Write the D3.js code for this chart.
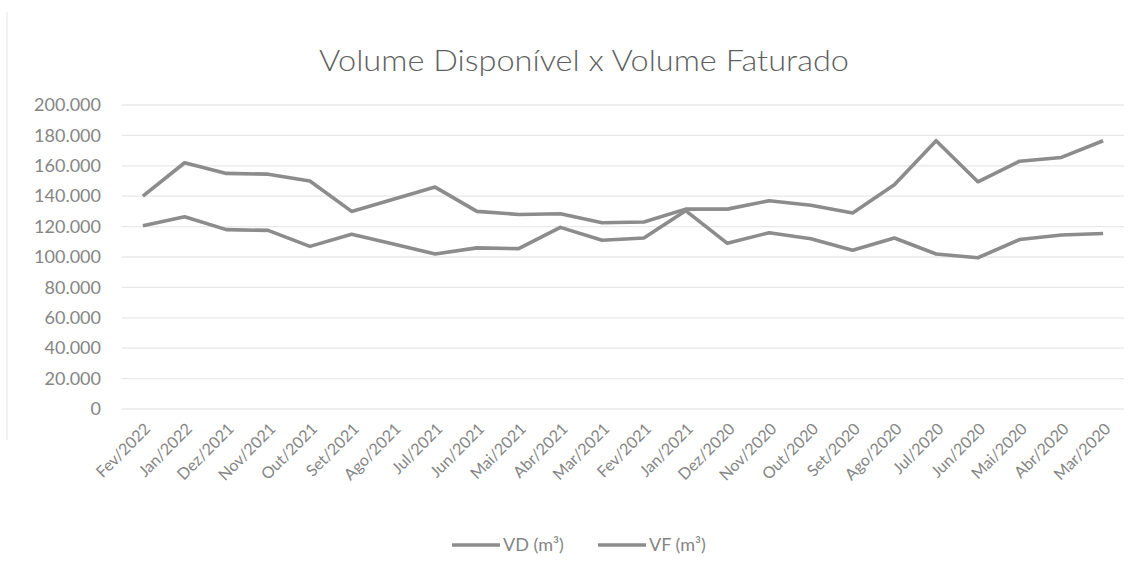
<!DOCTYPE html>
<html>
<head>
<meta charset="utf-8">
<script src="https://cdn.jsdelivr.net/npm/d3@7"></script>
<style>
  body { margin: 0; background: #fff; }
  text { font-family: Lato, "Open Sans", sans-serif; }
</style>
</head>
<body>
<svg width="1138" height="573"></svg>
<script>
// months, newest first as in the sheet
const months = ["Fev/2022", "Jan/2022", "Dez/2021", "Nov/2021", "Out/2021", "Set/2021",
  "Ago/2021", "Jul/2021", "Jun/2021", "Mai/2021", "Abr/2021", "Mar/2021",
  "Fev/2021", "Jan/2021", "Dez/2020", "Nov/2020", "Out/2020", "Set/2020",
  "Ago/2020", "Jul/2020", "Jun/2020", "Mai/2020", "Abr/2020", "Mar/2020"];
const vd = [140000, 162000, 155000, 154500, 150000, 130000, 138000, 146000, 130000, 128000,
  128500, 122500, 123000, 131500, 131500, 137000, 134000, 129000, 147500, 176500,
  149500, 163000, 165500, 176500];
const vf = [120500, 126500, 118000, 117500, 107000, 115000, 108500, 102000, 106000, 105500,
  119500, 111000, 112500, 130500, 109000, 116000, 112000, 104500, 112500, 102000,
  99500, 111500, 114500, 115500];
const yTicks = [0, 20000, 40000, 60000, 80000, 100000, 120000, 140000, 160000, 180000, 200000];
const seriesNames = ["VD (m\u00b3)", "VF (m\u00b3)"];

const svg = d3.select("svg");
const fmt = d3.formatLocale({decimal: ",", thousands: ".", grouping: [3], currency: ["R$", ""]}).format(",");

const x = d3.scalePoint().domain(months).range([122, 1124]).padding(0.5);
const y = d3.scaleLinear().domain([0, 200000]).range([409, 105]);

// faint chart border on the left
svg.append("line").attr("x1", 7).attr("x2", 7).attr("y1", 12).attr("y2", 440)
  .attr("stroke", "#eeeeee").attr("stroke-width", 1.5);

// title
svg.append("text")
  .attr("x", 584).attr("y", 71)
  .attr("text-anchor", "middle")
  .attr("font-size", 29)
  .attr("font-weight", 300)
  .attr("fill", "#5f5f5f")
  .attr("textLength", 530).attr("lengthAdjust", "spacingAndGlyphs")
  .text("Volume Disponível x Volume Faturado");

// gridlines
svg.append("g").selectAll("line")
  .data(yTicks)
  .join("line")
    .attr("x1", 122).attr("x2", 1124)
    .attr("y1", d => y(d)).attr("y2", d => y(d))
    .attr("stroke", "#e8e8e8").attr("stroke-width", 1.3);

// y axis labels
const yAxis = svg.append("g")
  .attr("transform", "translate(101,0)")
  .call(d3.axisLeft(y).tickValues(yTicks).tickFormat(fmt).tickSize(0).tickPadding(0));
yAxis.select(".domain").remove();
yAxis.selectAll("text")
  .attr("font-size", 18).attr("fill", "#858585")
  .attr("font-family", "Lato, sans-serif");

// x axis labels
const xAxis = svg.append("g")
  .attr("transform", "translate(0,409)")
  .call(d3.axisBottom(x).tickSize(0).tickPadding(0));
xAxis.select(".domain").remove();
xAxis.selectAll("text")
  .attr("font-size", 16).attr("fill", "#858585")
  .attr("font-family", "Lato, sans-serif")
  .attr("text-anchor", "end")
  .attr("dy", "0.35em")
  .attr("transform", "translate(4,17) rotate(-45)");

// lines
const line = d3.line().x((d, i) => x(months[i])).y(d => y(d));
svg.append("g").selectAll("path")
  .data([vd, vf])
  .join("path")
    .attr("d", line)
    .attr("fill", "none")
    .attr("stroke", "#8c8c8c")
    .attr("stroke-width", 3.6)
    .attr("stroke-linejoin", "round");

// legend
const legend = svg.append("g").selectAll("g")
  .data(seriesNames)
  .join("g")
    .attr("transform", (d, i) => `translate(${452 + i * 146},545)`);
legend.append("line")
  .attr("x1", 0).attr("x2", 48)
  .attr("stroke", "#8c8c8c").attr("stroke-width", 3.6);
legend.append("text")
  .attr("x", 51).attr("dy", "0.35em")
  .attr("font-size", 18).attr("fill", "#858585")
  .text(d => d);
</script>
</body>
</html>
